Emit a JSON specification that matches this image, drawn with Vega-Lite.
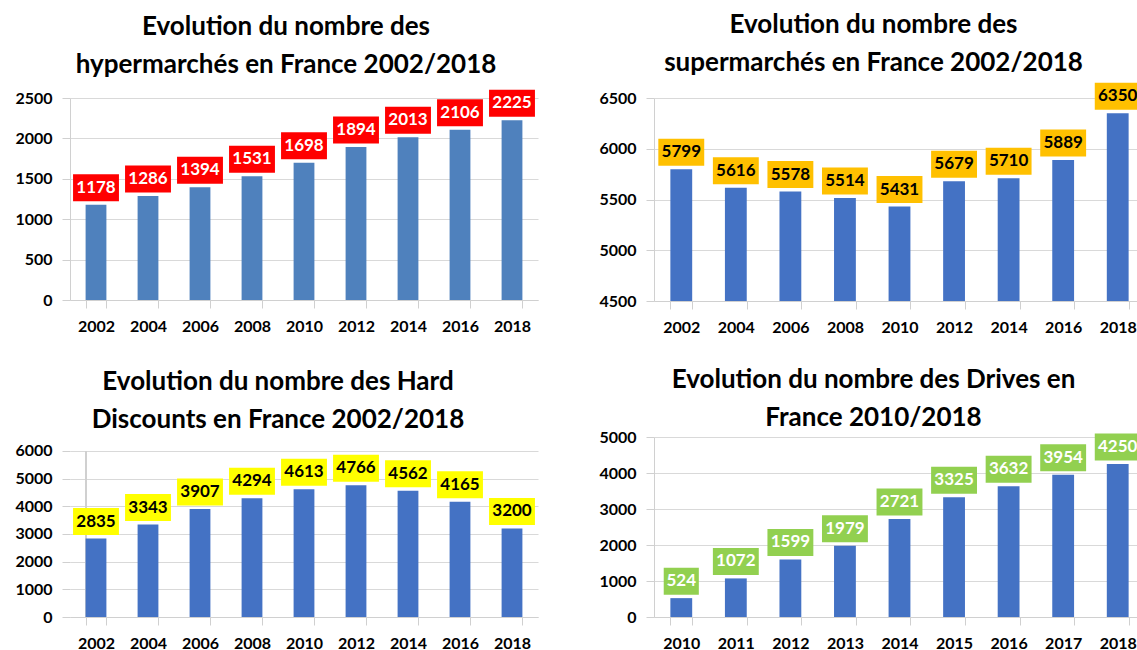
{
  "$schema": "https://vega.github.io/schema/vega-lite/v6.json",
  "padding": {"left": 14, "top": 11, "right": 0, "bottom": 0},
  "background": "white",
  "config": {
    "view": {"stroke": null},
    "font": "Lato",
    "title": {"font": "Lato", "fontWeight": "bold", "fontSize": 26, "color": "#000000", "anchor": "middle", "frame": "group", "lineHeight": 38, "offset": 14},
    "axis": {"labelFont": "Lato", "labelFontWeight": "bold", "labelFontSize": 16, "labelColor": "#000000", "domainColor": "#d0d0d0", "tickColor": "#d0d0d0", "gridColor": "#d9d9d9", "title": null, "tickSize": 8, "labelPadding": 10},
    "axisX": {"labelAngle": 0, "tickBand": "extent", "grid": false},
    "axisY": {"grid": true, "format": "d"}
  },
  "datasets": {
    "hyper": [
      {"annee": "2002", "nombre": 1178}, {"annee": "2004", "nombre": 1286}, {"annee": "2006", "nombre": 1394},
      {"annee": "2008", "nombre": 1531}, {"annee": "2010", "nombre": 1698}, {"annee": "2012", "nombre": 1894},
      {"annee": "2014", "nombre": 2013}, {"annee": "2016", "nombre": 2106}, {"annee": "2018", "nombre": 2225}
    ],
    "super": [
      {"annee": "2002", "nombre": 5799}, {"annee": "2004", "nombre": 5616}, {"annee": "2006", "nombre": 5578},
      {"annee": "2008", "nombre": 5514}, {"annee": "2010", "nombre": 5431}, {"annee": "2012", "nombre": 5679},
      {"annee": "2014", "nombre": 5710}, {"annee": "2016", "nombre": 5889}, {"annee": "2018", "nombre": 6350}
    ],
    "hard": [
      {"annee": "2002", "nombre": 2835}, {"annee": "2004", "nombre": 3343}, {"annee": "2006", "nombre": 3907},
      {"annee": "2008", "nombre": 4294}, {"annee": "2010", "nombre": 4613}, {"annee": "2012", "nombre": 4766},
      {"annee": "2014", "nombre": 4562}, {"annee": "2016", "nombre": 4165}, {"annee": "2018", "nombre": 3200}
    ],
    "drives": [
      {"annee": "2010", "nombre": 524}, {"annee": "2011", "nombre": 1072}, {"annee": "2012", "nombre": 1599},
      {"annee": "2013", "nombre": 1979}, {"annee": "2014", "nombre": 2721}, {"annee": "2015", "nombre": 3325},
      {"annee": "2016", "nombre": 3632}, {"annee": "2017", "nombre": 3954}, {"annee": "2018", "nombre": 4250}
    ]
  },
  "spacing": 32,
  "vconcat": [
    {
      "spacing": 60,
      "hconcat": [
        {
          "data": {"name": "hyper"},
          "title": {"text": ["Evolution du nombre des", "hypermarchés en France 2002/2018"], "dx": -18, "offset": 12},
          "width": 468,
          "height": 202,
          "encoding": {
            "x": {"field": "annee", "type": "ordinal", "scale": {"paddingInner": 0.6, "paddingOuter": 0.3}},
            "y": {"field": "nombre", "type": "quantitative", "scale": {"domain": [0, 2500]}, "axis": {"values": [0, 500, 1000, 1500, 2000, 2500]}}
          },
          "layer": [
            {"mark": {"type": "bar", "color": "#4F81BD"}},
            {"mark": {"type": "point", "shape": "M-1.7,-1H1.7V1H-1.7Z", "size": 729, "filled": true, "color": "#FF0000", "opacity": 1, "yOffset": -17}},
            {"mark": {"type": "text", "color": "#FFFFFF", "yOffset": -17, "font": "Lato", "fontWeight": "bold", "fontSize": 17, "baseline": "middle"}, "encoding": {"text": {"field": "nombre", "type": "nominal"}}}
          ]
        },
        {
          "data": {"name": "super"},
          "title": {"text": ["Evolution du nombre des", "supermarchés en France 2002/2018"], "dx": -26, "offset": 7},
          "width": 491,
          "height": 203,
          "encoding": {
            "x": {"field": "annee", "type": "ordinal", "scale": {"paddingInner": 0.6, "paddingOuter": 0.3}},
            "y": {"field": "nombre", "type": "quantitative", "scale": {"domain": [4500, 6500], "zero": false}, "axis": {"values": [4500, 5000, 5500, 6000, 6500]}}
          },
          "layer": [
            {"mark": {"type": "bar", "color": "#4472C4", "clip": true}},
            {"mark": {"type": "point", "shape": "M-1.7,-1H1.7V1H-1.7Z", "size": 729, "filled": true, "color": "#FFC000", "opacity": 1, "yOffset": -17}},
            {"mark": {"type": "text", "color": "#000000", "yOffset": -17, "font": "Lato", "fontWeight": "bold", "fontSize": 17, "baseline": "middle"}, "encoding": {"text": {"field": "nombre", "type": "nominal"}}}
          ]
        }
      ]
    },
    {
      "spacing": 60,
      "hconcat": [
        {
          "data": {"name": "hard"},
          "title": {"text": ["Evolution du nombre des Hard", "Discounts en France 2002/2018"], "dx": -26, "offset": 4},
          "width": 468,
          "height": 180,
          "encoding": {
            "x": {"field": "annee", "type": "ordinal", "scale": {"paddingInner": 0.6, "paddingOuter": 0.3}},
            "y": {"field": "nombre", "type": "quantitative", "scale": {"domain": [0, 6506], "nice": false}, "axis": {"values": [0, 1000, 2000, 3000, 4000, 5000, 6000], "domain": false}}
          },
          "layer": [
            {"mark": {"type": "rule", "color": "#d0d0d0", "strokeWidth": 1, "xOffset": 0.5}, "encoding": {"x": {"datum": "2002", "type": "ordinal", "bandPosition": 0}, "y": {"datum": 0, "type": "quantitative"}, "y2": {"datum": 6000}}},
            {"mark": {"type": "bar", "color": "#4472C4"}},
            {"mark": {"type": "point", "shape": "M-1.7,-1H1.7V1H-1.7Z", "size": 729, "filled": true, "color": "#FFFF00", "opacity": 1, "yOffset": -17}},
            {"mark": {"type": "text", "color": "#000000", "yOffset": -17, "font": "Lato", "fontWeight": "bold", "fontSize": 17, "baseline": "middle"}, "encoding": {"text": {"field": "nombre", "type": "nominal"}}}
          ]
        },
        {
          "data": {"name": "drives"},
          "title": {"text": ["Evolution du nombre des Drives en", "France 2010/2018"], "dx": -26, "offset": -2},
          "width": 491,
          "height": 180,
          "encoding": {
            "x": {"field": "annee", "type": "ordinal", "scale": {"paddingInner": 0.6, "paddingOuter": 0.3}},
            "y": {"field": "nombre", "type": "quantitative", "scale": {"domain": [0, 5000]}, "axis": {"values": [0, 1000, 2000, 3000, 4000, 5000]}}
          },
          "layer": [
            {"mark": {"type": "bar", "color": "#4472C4"}},
            {"mark": {"type": "point", "size": 729, "filled": true, "color": "#92D050", "opacity": 1, "yOffset": -17}, "encoding": {"shape": {"condition": {"test": "datum.nombre < 1000", "value": "M-1.3,-1H1.3V1H-1.3Z"}, "value": "M-1.7,-1H1.7V1H-1.7Z"}}},
            {"mark": {"type": "text", "color": "#FFFFFF", "yOffset": -17, "font": "Lato", "fontWeight": "bold", "fontSize": 17, "baseline": "middle"}, "encoding": {"text": {"field": "nombre", "type": "nominal"}}}
          ]
        }
      ]
    }
  ]
}
